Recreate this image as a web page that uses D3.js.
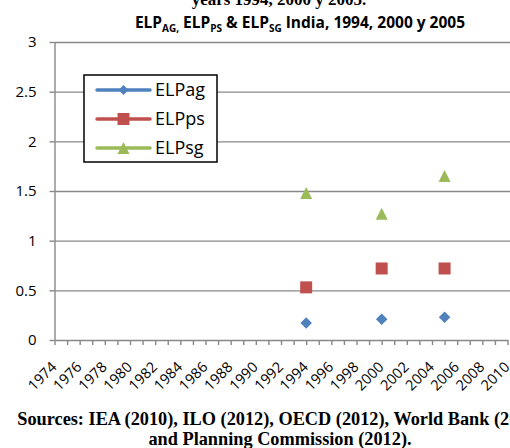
<!DOCTYPE html>
<html>
<head>
<meta charset="utf-8">
<script src="https://cdn.jsdelivr.net/npm/d3@7"></script>
<style>
  body { margin: 0; background: #fff; }
  svg { display: block; }
</style>
</head>
<body>
<svg id="chart"></svg>
<script>
// data
var years = [1994, 2000, 2005];
var elpAg = [0.17, 0.21, 0.23];
var elpPs = [0.53, 0.72, 0.72];
var elpSg = [1.48, 1.27, 1.65];

var seriesNames = ["ELPag", "ELPps", "ELPsg"];
var yTicks = [0, 0.5, 1, 1.5, 2, 2.5, 3];
var xYears = d3.range(1974, 2011);

// svg params
var svgWidth = 510, svgHeight = 448;
var plotLeft = 54.5, plotRight = 507.5, plotTop = 42, plotBottom = 340;
var colors = ["#4f81bd", "#c0504d", "#9bbb59"];
var gridColor = "#888888";
var sans = "'Open Sans', Lato, sans-serif";
var serif = "'Liberation Serif', 'DejaVu Serif', serif";

var svg = d3.select("#chart")
    .attr("width", svgWidth)
    .attr("height", svgHeight);

var x = d3.scaleLinear().domain([1974, 2010]).range([plotLeft, plotRight]);
var y = d3.scaleLinear().domain([0, 3]).range([plotBottom, plotTop]);

// gridlines
svg.append("g")
    .attr("transform", "translate(" + plotLeft + ",0)")
    .call(d3.axisRight(y).tickValues(yTicks.slice(1)).tickSize(svgWidth - plotLeft).tickFormat(""))
    .call(function (g) {
      g.select(".domain").remove();
      g.selectAll("line").attr("stroke", gridColor).attr("stroke-width", 1.4);
    });

// y axis
svg.append("g")
    .attr("transform", "translate(" + plotLeft + ",0)")
    .call(d3.axisLeft(y).tickValues(yTicks).tickSize(5).tickSizeOuter(0).tickPadding(13)
      .tickFormat(function (d) { return d; }))
    .call(function (g) {
      g.select(".domain").attr("stroke", gridColor).attr("stroke-width", 1.4);
      g.selectAll("line").attr("stroke", gridColor).attr("stroke-width", 1.4);
      g.selectAll("text").attr("font-family", sans).attr("font-size", 15).attr("fill", "#000");
    });

// x axis
svg.append("g")
    .attr("transform", "translate(0," + plotBottom + ")")
    .call(d3.axisBottom(x).tickValues(xYears).tickSize(5).tickSizeOuter(0).tickFormat(""))
    .call(function (g) {
      g.select(".domain").attr("stroke", gridColor).attr("stroke-width", 1.4);
      g.selectAll("line").attr("stroke", gridColor).attr("stroke-width", 1.4);
    });

svg.append("g")
    .selectAll("text")
    .data(xYears.filter(function (d) { return d % 2 === 0; }))
    .enter()
    .append("text")
    .attr("transform", function (d) {
      return "translate(" + [x(d) + 3, 368] + ") rotate(-45)";
    })
    .attr("text-anchor", "end")
    .attr("font-family", sans)
    .attr("font-size", 14.5)
    .text(function (d) { return d; });

// marker shapes, centred on their box like Excel does
function marker(kind, s) {
  var h = s / 2;
  if (kind === 0) return "M0," + (-h) + "L" + h + ",0L0," + h + "L" + (-h) + ",0Z";
  if (kind === 1) return "M" + (-h) + "," + (-h) + "H" + h + "V" + h + "H" + (-h) + "Z";
  return "M0," + (-h) + "L" + h + "," + h + "L" + (-h) + "," + h + "Z";
}

var allSeries = [elpAg, elpPs, elpSg];
var sizes = [11.5, 12, 12];

allSeries.forEach(function (vals, k) {
  svg.append("g")
    .selectAll("path")
    .data(vals)
    .enter()
    .append("path")
    .attr("transform", function (d, i) {
      return "translate(" + [x(years[i]), y(d)] + ")";
    })
    .attr("d", marker(k, sizes[k]))
    .attr("fill", colors[k]);
});

// legend
var legend = svg.append("g").attr("transform", "translate(84,75)");
legend.append("rect")
    .attr("width", 133).attr("height", 87)
    .attr("fill", "#fff").attr("stroke", "#000").attr("stroke-width", 1.5);

seriesNames.forEach(function (name, k) {
  var row = legend.append("g").attr("transform", "translate(0," + (15 + k * 29) + ")");
  row.append("line")
      .attr("x1", 13).attr("x2", 66)
      .attr("stroke", colors[k]).attr("stroke-width", 3.5).attr("stroke-linecap", "round");
  row.append("path")
      .attr("transform", "translate(39.5,0)")
      .attr("d", marker(k, k === 0 ? 10 : 12))
      .attr("fill", colors[k]);
  row.append("text")
      .attr("x", 71).attr("dy", "0.36em")
      .attr("font-family", sans).attr("font-size", 18)
      .text(name);
});

// titles
svg.append("text")
    .attr("x", 279).attr("y", 5)
    .attr("text-anchor", "middle")
    .attr("font-family", serif).attr("font-weight", "bold").attr("font-size", 17)
    .text("years 1994, 2000 y 2005.");

var title = svg.append("text")
    .attr("x", 300).attr("y", 28)
    .attr("text-anchor", "middle")
    .attr("font-family", sans).attr("font-weight", "bold").attr("font-size", 15.5);

var parts = [["ELP", 0], ["AG,", 1], [" ELP", 0], ["PS", 1], [" & ELP", 0], ["SG", 1], [" India, 1994, 2000 y 2005", 0]];
var prevSub = 0;
parts.forEach(function (p) {
  var shift = (p[1] - prevSub) * 3.5;
  title.append("tspan")
      .attr("dy", shift)
      .attr("font-size", p[1] ? 10 : 15.5)
      .text(p[0]);
  prevSub = p[1];
});

// sources
var foot = ["Sources: IEA (2010), ILO (2012), OECD (2012), World Bank (2012)",
            "and Planning Commission (2012)."];
svg.append("g")
    .selectAll("text")
    .data(foot)
    .enter()
    .append("text")
    .attr("x", 280)
    .attr("y", function (d, i) { return 425 + i * 20; })
    .attr("text-anchor", "middle")
    .attr("font-family", serif).attr("font-weight", "bold").attr("font-size", 18.3)
    .text(function (d) { return d; });
</script>
</body>
</html>
